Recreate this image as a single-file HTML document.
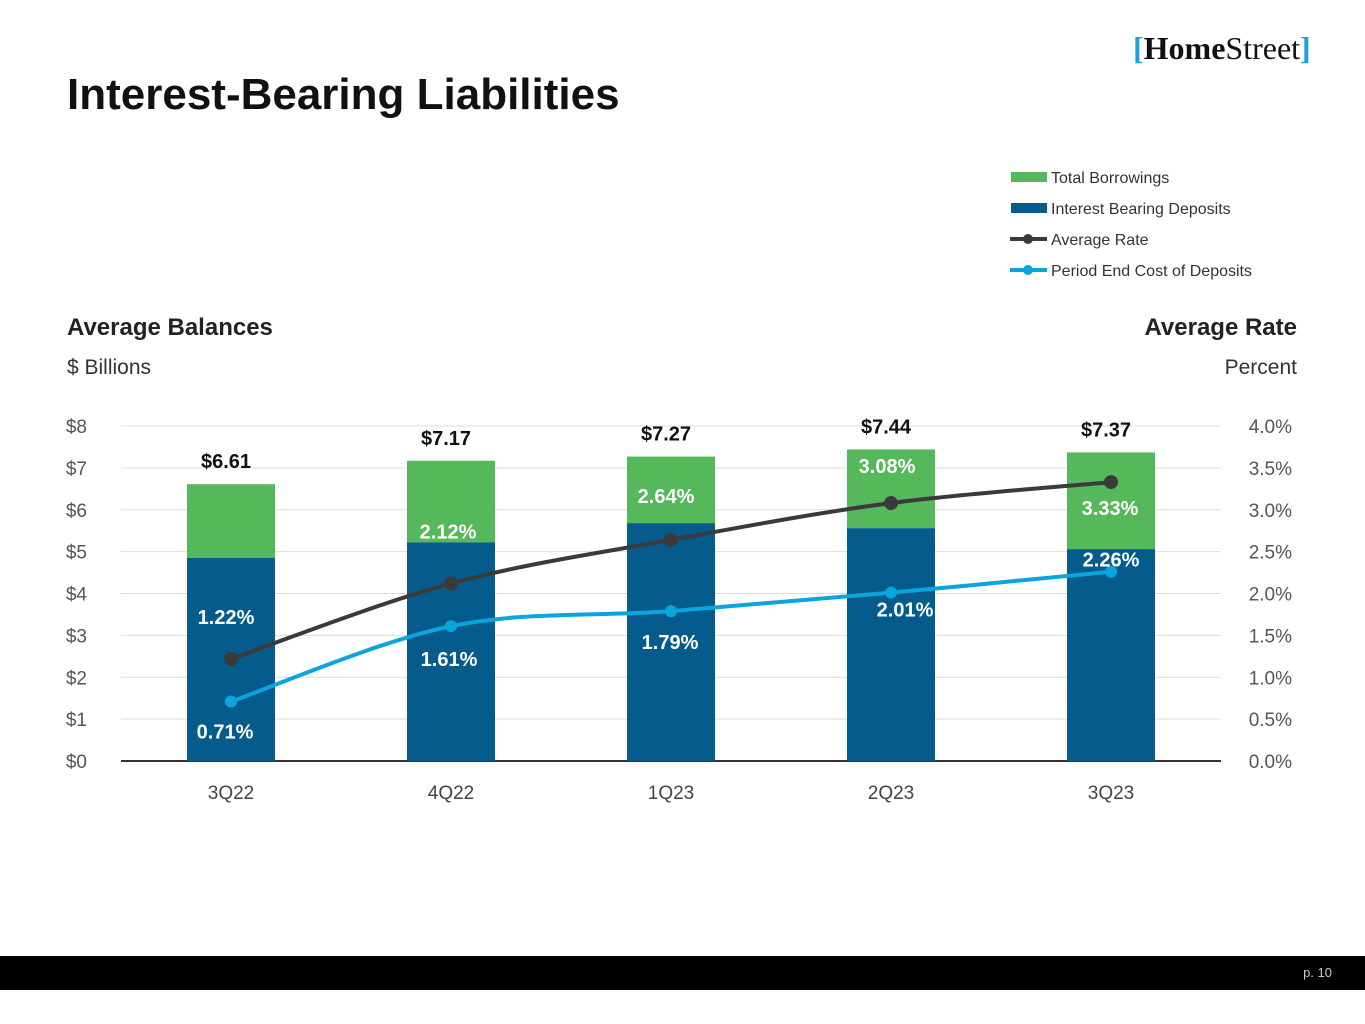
<!DOCTYPE html>
<html><head><meta charset="utf-8"><style>
body{margin:0;width:1365px;height:1024px;background:#fff;font-family:"Liberation Sans",sans-serif;position:relative;overflow:hidden}
.t{position:absolute;white-space:nowrap}
</style></head><body>
<div class="t" style="left:67px;top:70px;font-size:44px;font-weight:bold;color:#111">Interest-Bearing Liabilities</div>
<div class="t" style="left:1133px;top:30px;font-family:'Liberation Serif',serif;font-size:32px;color:#111"><span style="color:#1aa3dd;font-weight:bold">[</span><b>Home</b>Street<span style="color:#1aa3dd;font-weight:bold">]</span></div>
<div class="t" style="left:67px;top:314px;font-size:24px;font-weight:bold;color:#222">Average Balances</div>
<div class="t" style="left:67px;top:356px;font-size:21px;color:#333">$ Billions</div>
<div class="t" style="right:68px;top:314px;font-size:24px;font-weight:bold;color:#222">Average Rate</div>
<div class="t" style="right:68px;top:356px;font-size:21px;color:#333">Percent</div>
<svg id="chart" width="1365" height="1024" style="position:absolute;left:0;top:0" font-family="Liberation Sans, sans-serif"></svg>
<div style="position:absolute;left:0;top:956px;width:1365px;height:34px;background:#000"></div>
<div class="t" style="right:33px;top:965px;font-size:13px;color:#ccc">p. 10</div>
<script>
const categories=["3Q22","4Q22","1Q23","2Q23","3Q23"];
const deposits=[4.85,5.22,5.68,5.56,5.06];
const totals=[6.61,7.17,7.27,7.44,7.37];
const avgRate=[1.22,2.12,2.64,3.08,3.33];
const costDep=[0.71,1.61,1.79,2.01,2.26];
const leftTicks=["$0","$1","$2","$3","$4","$5","$6","$7","$8"];
const rightTicks=["0.0%","0.5%","1.0%","1.5%","2.0%","2.5%","3.0%","3.5%","4.0%"];
const NS="http://www.w3.org/2000/svg",svg=document.getElementById('chart');
const y0=761,yTop=426,x0=121,x1=1221;
const yL=v=>y0-(y0-yTop)*v/8, yR=v=>y0-(y0-yTop)*v/4, xC=i=>x0+(x1-x0)*(i+0.5)/categories.length;
function mk(t,a,txt){const e=document.createElementNS(NS,t);for(const k in a)e.setAttribute(k,a[k]);if(txt!=null)e.textContent=txt;svg.appendChild(e);return e;}
leftTicks.forEach((s,i)=>{const y=yL(i);
 const g=mk('line',{x1:x0,x2:x1,y1:y,y2:y,stroke:i==0?'#333':'#ddd','stroke-width':i==0?2:1});
 
 const t=mk('text',{x:87,y:y+7,'text-anchor':'end','font-size':19,fill:'#555'},s);
 });
rightTicks.forEach((s,i)=>{const t=mk('text',{x:1292,y:yR(i*0.5)+7,'text-anchor':'end','font-size':19,fill:'#555'},s);
 });
const bw=88;
categories.forEach((c,i)=>{const x=xC(i);
 const g=mk('rect',{x:x-bw/2,y:yL(totals[i]),width:bw,height:yL(deposits[i])-yL(totals[i]),fill:'#55b85a'});
 
 const d=mk('rect',{x:x-bw/2,y:yL(deposits[i]),width:bw,height:y0-yL(deposits[i]),fill:'#045b8c'});
 
 const tl=mk('text',{x:x-5,y:yL(totals[i])-16,'text-anchor':'middle','font-size':20,'font-weight':'bold',fill:'#111'},'$'+totals[i].toFixed(2));
 
 const cl=mk('text',{x:x,y:799,'text-anchor':'middle','font-size':19,fill:'#444'},c);
 });
function series(vals,color,name,r,offs){
 const pts=vals.map((v,i)=>[xC(i),yR(v)]);
 let d='M'+pts[0];
 for(let i=0;i<pts.length-1;i++){const p0=pts[Math.max(0,i-1)],p1=pts[i],p2=pts[i+1],p3=pts[Math.min(pts.length-1,i+2)];
  const c1=[p1[0]+(p2[0]-p0[0])/6,p1[1]+(p2[1]-p0[1])/6],c2=[p2[0]-(p3[0]-p1[0])/6,p2[1]-(p3[1]-p1[1])/6];
  d+=` C${c1} ${c2} ${p2}`;}
 const l=mk('path',{d:d,fill:'none',stroke:color,'stroke-width':4});
 
 pts.forEach((p,i)=>{const c=mk('circle',{cx:p[0],cy:p[1],r:r,fill:color});
  
  const t=mk('text',{x:p[0]+offs[i][0],y:p[1]+offs[i][1],'text-anchor':'middle','font-size':20,'font-weight':'bold',fill:'#fff'},vals[i].toFixed(2)+'%');
  });
}
series(costDep,'#0ba5dd','cost-of-deposits',6,[[-6,37],[-2,40],[-1,38],[14,24],[0,-5]]);
series(avgRate,'#3a3a3a','average-rate',7,[[-5,-35],[-3,-45],[-5,-37],[-4,-30],[-1,33]]);
const leg=[["Total Borrowings","#55b85a",0],["Interest Bearing Deposits","#045b8c",0],["Average Rate","#3a3a3a",1],["Period End Cost of Deposits","#0ba5dd",1]];
leg.forEach((L,i)=>{const y=177+i*31;
 if(L[2]){const a=mk('line',{x1:1010,x2:1047,y1:y,y2:y,stroke:L[1],'stroke-width':4});
  const b=mk('circle',{cx:1028,cy:y,r:5,fill:L[1]});}
 else{const a=mk('rect',{x:1011,y:y-5,width:36,height:10,fill:L[1]});}
 const t=mk('text',{x:1051,y:y+6,'font-size':16,fill:'#333'},L[0]);});
</script>
</body></html>
